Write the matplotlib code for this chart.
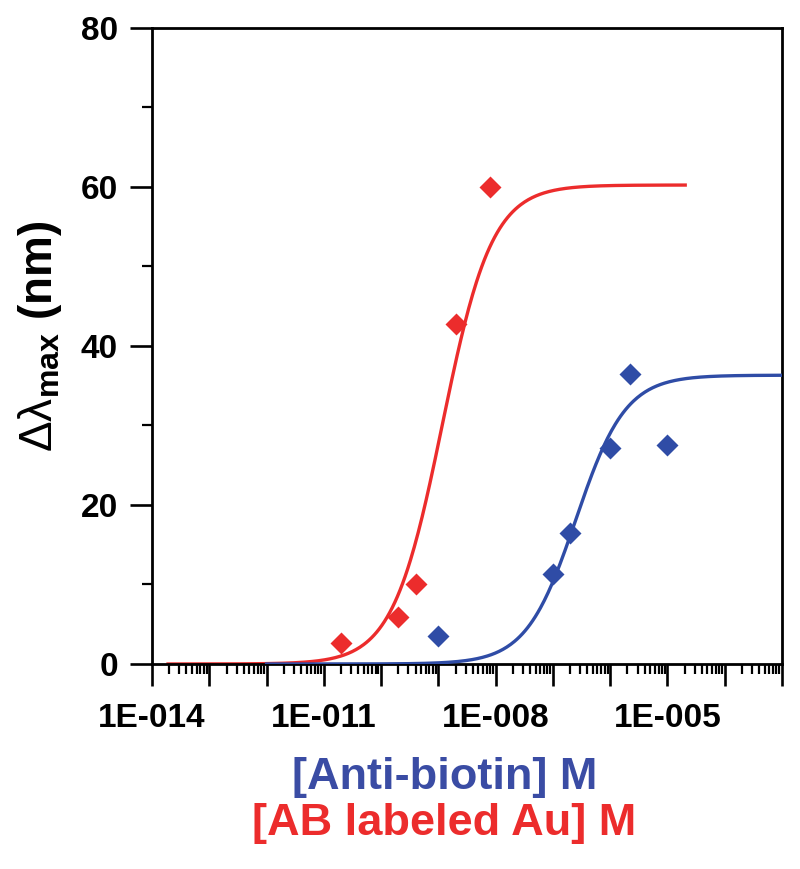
import numpy as np
import matplotlib
matplotlib.use("Agg")
import matplotlib.pyplot as plt
from matplotlib.ticker import LogLocator, FixedLocator, NullFormatter, MultipleLocator

plt.rcParams['font.family'] = ['Liberation Sans', 'DejaVu Sans']
plt.rcParams['mathtext.fontset'] = 'custom'
plt.rcParams['mathtext.rm'] = 'Liberation Sans'
plt.rcParams['mathtext.it'] = 'Liberation Sans:italic'
plt.rcParams['mathtext.bf'] = 'Liberation Sans:bold'

# ---- data ----
red_conc = [2e-11, 2e-10, 4e-10, 2e-9, 8e-9]          # [AB labeled Au] M
red_shift = [2.6, 5.9, 10.1, 42.7, 60.0]
blue_conc = [1e-9, 1e-7, 2e-7, 1e-6, 2.2e-6, 1e-5]    # [Anti-biotin] M
blue_shift = [3.5, 11.3, 16.5, 27.1, 36.4, 27.5]

# fitted Hill curves (plateau, log10 midpoint, slope, log10 range)
red_fit = dict(top=60.2, logx0=-8.93, n=1.0, lo=-13.72, hi=-4.69)
blue_fit = dict(top=36.3, logx0=-6.60, n=1.0, lo=-12.0, hi=-3.0)

xtick_vals = [1e-14, 1e-11, 1e-8, 1e-5]
xtick_labels = ['1E-014', '1E-011', '1E-008', '1E-005']
ytick_vals = [0, 20, 40, 60, 80]

RED = '#EC2C2C'
BLUE = '#2F4CA6'
BLUE_TXT = '#3A4CA4'

fig = plt.figure(figsize=(8.0, 8.69), dpi=100)
ax = fig.add_axes([152/800, 1-664/869, (782-152)/800, (664-27.5)/869])

def hill(fit):
    lx = np.linspace(fit['lo'], fit['hi'], 400)
    y = fit['top'] / (1 + 10 ** (fit['n'] * (fit['logx0'] - lx)))
    return 10 ** lx, y

xr, yr = hill(red_fit)
xb, yb = hill(blue_fit)
ax.plot(xr, yr, color=RED, lw=2.4, zorder=2)
ax.plot(xb, yb, color=BLUE, lw=2.4, zorder=3)
ax.plot(red_conc, red_shift, 'D', color=RED, ms=11.5, mec='none', zorder=4)
ax.plot(blue_conc, blue_shift, 'D', color=BLUE, ms=11.5, mec='none', zorder=4)

ax.set_xscale('log')
ax.set_xlim(1e-14, 1e-3)
ax.set_ylim(0, 80)

ax.xaxis.set_major_locator(LogLocator(base=10, numticks=20))
ax.xaxis.set_minor_locator(LogLocator(base=10, subs=np.arange(2, 10), numticks=200))
ax.xaxis.set_major_formatter(NullFormatter())
ax.xaxis.set_minor_formatter(NullFormatter())
for xv, lab in zip(xtick_vals, xtick_labels):
    ax.text(xv, -0.062, lab, transform=ax.get_xaxis_transform(), ha='center', va='top',
            fontsize=24, fontweight='bold')

ax.yaxis.set_major_locator(FixedLocator(ytick_vals))
ax.yaxis.set_minor_locator(MultipleLocator(10))

ax.tick_params(which='major', direction='out', length=15.5, width=1.9, top=False, right=False,
               labelsize=24, pad=9)
ax.tick_params(which='minor', direction='out', length=7, width=1.6, top=False, right=False)
for lab in ax.get_yticklabels():
    lab.set_fontweight('bold')
for s in ax.spines.values():
    s.set_linewidth(2.0)

ax.set_ylabel(r'$\mathrm{\Delta\lambda}_{\mathbf{max}}$ (nm)', fontsize=33, fontweight='bold', va='center')
ax.yaxis.set_label_coords((40-152)/630, (664-336.5)/636.5)

fig.text(445/800, 1-777/869, '[Anti-biotin] M', color=BLUE_TXT, fontsize=32.5, fontweight='bold',
         ha='center', va='center')
fig.text(444/800, 1-823/869, '[AB labeled Au] M', color=RED, fontsize=32.5, fontweight='bold',
         ha='center', va='center')

fig.savefig('out.png', dpi=100)
